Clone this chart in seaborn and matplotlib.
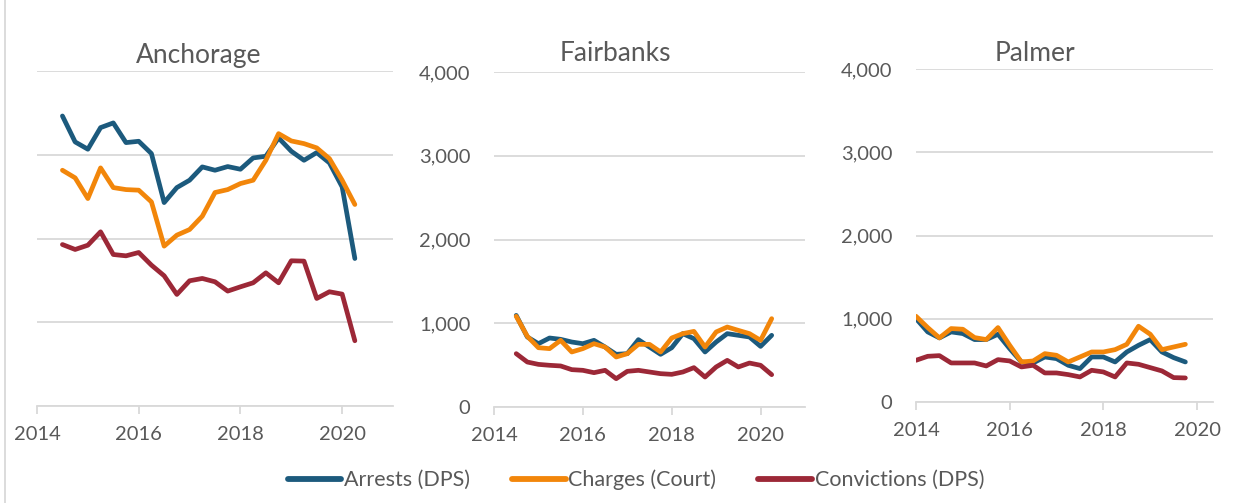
import pandas as pd
import matplotlib
matplotlib.use("Agg")
import matplotlib.pyplot as plt
from matplotlib.lines import Line2D
from matplotlib.ticker import FuncFormatter
import seaborn as sns

# Quarterly counts (decimal year of each quarter)
quarters_ak = [2014.5, 2014.75, 2015.0, 2015.25, 2015.5, 2015.75, 2016.0, 2016.25,
               2016.5, 2016.75, 2017.0, 2017.25, 2017.5, 2017.75, 2018.0, 2018.25,
               2018.5, 2018.75, 2019.0, 2019.25, 2019.5, 2019.75, 2020.0, 2020.25]
quarters_pa = [2014.0, 2014.25, 2014.5, 2014.75, 2015.0, 2015.25, 2015.5, 2015.75,
               2016.0, 2016.25, 2016.5, 2016.75, 2017.0, 2017.25, 2017.5, 2017.75,
               2018.0, 2018.25, 2018.5, 2018.75, 2019.0, 2019.25, 2019.5, 2019.75]

anchorage_arrests = [3463, 3153, 3066, 3324, 3380, 3145, 3161, 3014, 2429, 2608, 2696, 2855,
                     2815, 2859, 2827, 2962, 2982, 3201, 3042, 2934, 3026, 2903, 2616, 1761]
anchorage_charges = [2815, 2724, 2477, 2843, 2608, 2584, 2577, 2437, 1909, 2040, 2107, 2266,
                     2549, 2584, 2656, 2696, 2934, 3252, 3165, 3133, 3082, 2954, 2696, 2406]
anchorage_convictions = [1928, 1869, 1920, 2080, 1809, 1793, 1833, 1682, 1555, 1332, 1495, 1523,
                         1483, 1372, 1423, 1471, 1590, 1471, 1734, 1730, 1284, 1364, 1336, 779]

fairbanks_arrests = [1094, 836, 756, 824, 808, 776, 756, 796, 716, 629, 637, 804,
                     716, 629, 708, 876, 816, 657, 776, 876, 856, 836, 724, 856]
fairbanks_charges = [1083, 844, 708, 697, 796, 657, 697, 756, 716, 597, 637, 748,
                     748, 657, 824, 876, 903, 716, 896, 955, 915, 876, 796, 1055]
fairbanks_convictions = [637, 537, 509, 498, 490, 446, 438, 410, 438, 338, 426, 438,
                         418, 398, 390, 418, 470, 358, 478, 557, 478, 525, 498, 386]

palmer_arrests = [1002, 842, 770, 842, 822, 750, 750, 814, 641, 481, 469, 541,
                  521, 441, 401, 541, 541, 481, 601, 681, 750, 601, 533, 481]
palmer_charges = [1030, 894, 770, 882, 874, 774, 750, 894, 681, 481, 493, 581,
                  561, 481, 541, 601, 601, 629, 693, 910, 814, 629, 661, 693]
palmer_convictions = [501, 549, 557, 469, 469, 469, 433, 509, 493, 421, 441, 349,
                      349, 329, 301, 381, 361, 301, 469, 453, 413, 373, 293, 289]

series_names = ["Arrests (DPS)", "Charges (Court)", "Convictions (DPS)"]
colors = ["#1c5a7d", "#f2860a", "#9c2837"]
year_ticks = [2014, 2016, 2018, 2020]
value_ticks = [0, 1000, 2000, 3000, 4000]

panels = [
    ("Anchorage", quarters_ak, [anchorage_arrests, anchorage_charges, anchorage_convictions]),
    ("Fairbanks", quarters_ak, [fairbanks_arrests, fairbanks_charges, fairbanks_convictions]),
    ("Palmer", quarters_pa, [palmer_arrests, palmer_charges, palmer_convictions]),
]

sns.set_theme(style="white")
plt.rcParams["font.family"] = ["Lato", "DejaVu Sans"]

TEXT = "#595959"
GRID = "#d9d9d9"

fig = plt.figure(figsize=(12.52, 5.03), dpi=100)
W, H = 1252, 503

# axes boxes in pixels: left, top, right, bottom
boxes = [(37, 71, 393, 406), (494, 72, 805, 407), (916, 69, 1213, 402)]
xmax = [2021.0, 2021.0, 2020.34]
title_pos = [(199, 63), (615, 61), (1035, 61)]
show_y = [False, True, True]

for (name, quarters, values), (l, t, r, b), xm, (tx, ty), sy in zip(
        panels, boxes, xmax, title_pos, show_y):
    ax = fig.add_axes([l / W, 1 - b / H, (r - l) / W, (b - t) / H])
    df = pd.DataFrame({
        "quarter": quarters * 3,
        "count": values[0] + values[1] + values[2],
        "series": [s for s in series_names for _ in quarters],
    })
    sns.lineplot(data=df, x="quarter", y="count", hue="series",
                 hue_order=series_names, palette=colors, linewidth=3.4,
                 ax=ax, legend=False, solid_capstyle="round", solid_joinstyle="round")
    ax.set_xlim(2014, xm)
    ax.set_ylim(0, 4000)
    ax.set_xticks(year_ticks)
    ax.set_yticks(value_ticks)
    ax.yaxis.set_major_formatter(FuncFormatter(lambda v, p: f"{int(v):,}"))
    ax.grid(axis="y", color=GRID, linewidth=1.3)
    ax.set_axisbelow(True)
    for side in ("left", "right", "top"):
        ax.spines[side].set_visible(False)
    ax.spines["bottom"].set_color(GRID)
    ax.spines["bottom"].set_linewidth(1.3)
    ax.tick_params(axis="x", colors=GRID, length=5.5, width=1.3, pad=9,
                   labelsize=14.5, labelcolor=TEXT, direction="out", bottom=True)
    ax.tick_params(axis="y", length=0, pad=17, labelsize=14.5, labelcolor=TEXT,
                   labelleft=sy)
    ax.set_xlabel("")
    ax.set_ylabel("")
    fig.text(tx / W, 1 - ty / H, name, ha="center", va="baseline",
             fontsize=19, color=TEXT)

# thin frame line at the left edge
fig.add_artist(Line2D([5 / W, 5 / W], [0, 1], color=GRID, linewidth=1.3))

handles = [Line2D([0], [0], color=c, linewidth=4.2, solid_capstyle="round")
           for c in colors]
fig.legend(handles, series_names, loc="center", bbox_to_anchor=(636 / W, 1 - 480 / H),
           ncol=3, frameon=False, fontsize=15.5, labelcolor=TEXT,
           handlelength=2.5, handletextpad=0.12, columnspacing=1.95)

fig.savefig("out.png", dpi=100, facecolor="white")
